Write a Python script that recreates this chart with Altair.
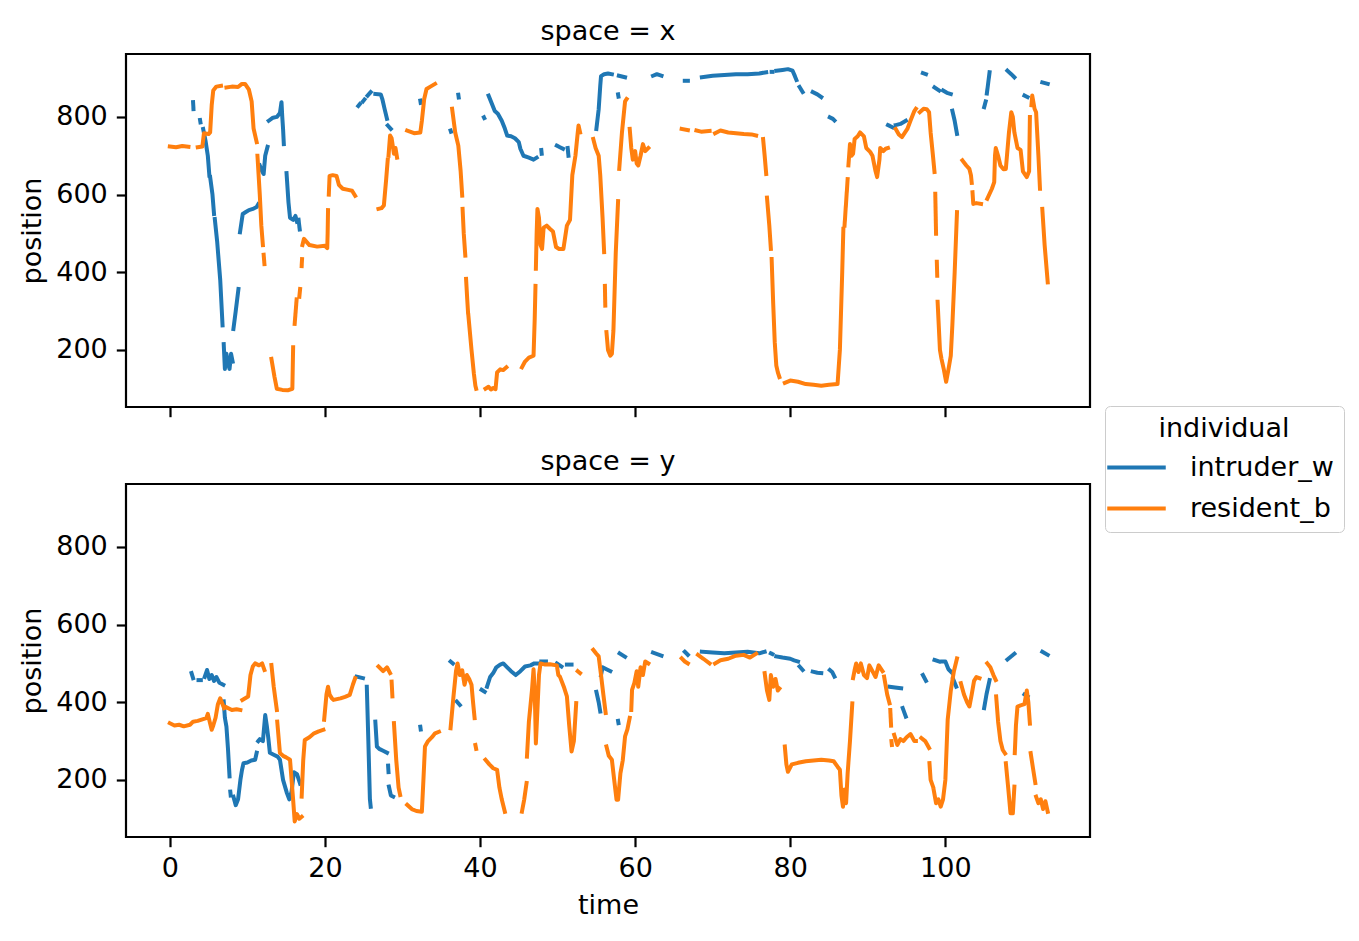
import altair as alt
import pandas as pd

# ---------------- data (time, position) segments; a new segment = gap (NaN) ----------------
X_INTRUDER = [
    [(3.0, 838), (3.05, 820)],
    [(3.9, 792), (3.95, 786)],
    [(4.3, 769), (4.6, 739), (4.9, 700), (5.1, 649)],
    [(5.2, 645), (5.5, 600), (5.7, 550)],
    [(5.8, 537), (6.1, 480), (6.5, 380), (6.8, 263)],
    [(6.95, 215), (7.1, 151), (7.3, 190), (7.5, 165), (7.7, 151), (7.9, 190), (8.1, 170)],
    [(8.2, 254), (8.5, 300), (8.85, 357)],
    [(9.05, 503), (9.4, 550), (9.8, 555), (10.2, 560), (10.7, 563), (11.2, 568), (11.4, 575)],
    [(11.6, 675), (11.9, 660), (12.1, 653), (12.3, 700), (12.6, 723)],
    [(12.75, 790), (13.3, 798), (13.8, 800), (14.2, 810), (14.4, 838), (14.5, 800), (14.6, 770), (14.7, 730)],
    [(15.05, 655), (15.3, 580), (15.5, 540), (15.9, 535), (16.2, 545), (16.4, 530)],
    [(16.6, 535), (16.75, 510)],
    [(24.3, 828), (24.5, 833)],
    [(24.9, 840), (25.1, 845)],
    [(25.5, 855), (25.9, 864)],
    [(26.5, 859), (27.2, 858), (27.4, 846), (27.7, 820), (28.0, 795)],
    [(28.1, 778), (28.5, 769)],
    [(32.3, 842), (32.35, 836)],
    [(36.2, 765), (36.25, 762)],
    [(37.2, 857), (37.25, 850)],
    [(40.5, 799), (40.55, 797)],
    [(41.1, 855), (41.5, 835), (41.9, 815), (42.3, 808), (42.8, 790), (43.2, 770), (43.5, 752),
     (44.0, 750), (44.5, 745), (45.0, 735), (45.2, 718), (45.6, 700), (46.3, 695), (46.9, 690), (47.3, 695)],
    [(47.9, 715), (47.95, 705)],
    [(49.9, 726), (50.3, 722), (50.7, 718)],
    [(51.3, 720), (51.4, 700)],
    [(55.0, 769), (55.3, 820), (55.5, 880), (55.6, 905), (56.0, 910), (56.5, 912), (57.0, 910)],
    [(57.8, 858), (57.85, 852)],
    [(57.9, 906), (58.7, 902)],
    [(62.3, 906), (62.8, 910), (63.4, 906)],
    [(66.4, 893), (66.8, 893)],
    [(68.6, 902), (70.0, 906), (71.5, 908), (73.0, 910), (74.5, 910), (76.0, 912), (76.9, 915)],
    [(77.6, 916), (77.7, 916)],
    [(78.2, 919), (79.0, 921), (79.7, 923), (80.3, 919), (80.6, 905), (80.8, 895)],
    [(81.2, 877), (81.6, 864)],
    [(82.9, 864), (83.5, 858), (84.0, 851)],
    [(85.1, 799), (85.5, 795), (85.7, 791)],
    [(92.6, 779), (93.2, 773)],
    [(93.6, 779), (94.2, 782), (94.9, 790)],
    [(97.1, 913), (97.5, 910)],
    [(98.6, 876), (99.2, 868)],
    [(99.7, 868), (100.2, 862), (100.7, 859)],
    [(100.9, 816), (101.2, 790), (101.5, 756)],
    [(105.0, 825), (105.2, 840)],
    [(105.35, 860), (105.7, 915)],
    [(108.0, 919), (108.5, 910), (108.9, 902)],
    [(110.2, 855), (110.6, 851)],
    [(112.5, 889), (113.2, 885)],
]

X_RESIDENT = [
    [(0.0, 724), (0.8, 722), (1.6, 725), (2.4, 723)],
    [(3.6, 722), (4.2, 724), (4.4, 758), (5.0, 756), (5.2, 760), (5.4, 830), (5.6, 868), (6.0, 878), (6.6, 880)],
    [(7.3, 876), (8.0, 878), (8.8, 877), (9.3, 885), (9.7, 885), (10.2, 870), (10.55, 840), (10.8, 770), (11.2, 735)],
    [(11.3, 700), (11.6, 600), (11.8, 520), (12.0, 470)],
    [(12.1, 445), (12.2, 421)],
    [(13.1, 177), (13.5, 130), (13.8, 100), (14.5, 97), (15.2, 96), (15.8, 100), (15.9, 207)],
    [(16.1, 267), (16.35, 330)],
    [(16.7, 337), (16.8, 357)],
    [(17.0, 416), (17.05, 434)],
    [(17.1, 470), (17.3, 486), (18.0, 470), (19.0, 466), (20.0, 468), (20.3, 462), (20.35, 500), (20.4, 560)],
    [(20.5, 600), (20.6, 648), (21.0, 650), (21.5, 648), (21.8, 625), (22.3, 615), (23.0, 612), (23.5, 610), (23.9, 597)],
    [(26.9, 563), (27.3, 565), (27.6, 572), (27.9, 640), (28.1, 690)],
    [(28.2, 700), (28.4, 752), (28.6, 745), (28.9, 705), (29.1, 720), (29.3, 695)],
    [(30.6, 765), (31.5, 758), (32.3, 760), (32.5, 790), (32.8, 846), (33.1, 872), (33.6, 878), (34.2, 885)],
    [(36.4, 821), (36.8, 760), (37.2, 726), (37.5, 660), (37.7, 597)],
    [(37.75, 563), (37.9, 500), (38.1, 443)],
    [(38.2, 383), (38.35, 330), (38.45, 297)],
    [(38.5, 288), (38.9, 200), (39.2, 140), (39.4, 108), (39.5, 100)],
    [(40.7, 100), (41.1, 105), (41.4, 98), (41.7, 102), (42.0, 99), (42.2, 142), (42.6, 150), (43.0, 148), (43.4, 155)],
    [(45.4, 155), (45.8, 170), (46.3, 180), (46.9, 185), (47.05, 280), (47.15, 365)],
    [(47.2, 409), (47.3, 500), (47.4, 563), (47.6, 540), (47.8, 470), (48.0, 460), (48.2, 515), (48.6, 520),
     (49.0, 512), (49.4, 505), (49.8, 465), (50.2, 460), (50.75, 460), (51.2, 520), (51.6, 535), (51.9, 650),
     (52.3, 700), (52.6, 760), (52.7, 778), (52.9, 760)],
    [(54.6, 743), (54.9, 720), (55.3, 700), (55.5, 650), (55.8, 540), (56.0, 452)],
    [(56.1, 365), (56.15, 314)],
    [(56.3, 246), (56.5, 200), (56.8, 185), (57.0, 190), (57.2, 250), (57.5, 450), (57.8, 583)],
    [(57.95, 666), (58.3, 760), (58.7, 840), (58.9, 846)],
    [(59.3, 769), (59.5, 720), (59.7, 690), (60.0, 712), (60.2, 680), (60.4, 675), (60.7, 700), (61.0, 730), (61.3, 712), (61.7, 720)],
    [(66.0, 769), (66.8, 766)],
    [(67.9, 765), (68.5, 762), (69.6, 764)],
    [(70.3, 758), (71.0, 765), (72.0, 760), (73.0, 758), (74.0, 756), (75.0, 755), (75.6, 752)],
    [(76.5, 743), (76.7, 700), (76.9, 653)],
    [(77.0, 592), (77.3, 520), (77.5, 460)],
    [(77.6, 434), (77.8, 320), (78.0, 220), (78.2, 160), (78.4, 142), (78.6, 130)],
    [(79.3, 115), (80.0, 121), (81.0, 118), (82.0, 112), (83.0, 110), (84.0, 108), (85.0, 110), (86.1, 112),
     (86.4, 200), (86.7, 400), (86.8, 477), (86.85, 512)],
    [(87.0, 520), (87.4, 640)],
    [(87.5, 675), (87.7, 730), (87.9, 700), (88.1, 705), (88.3, 743), (88.7, 750), (89.0, 760), (89.5, 750),
     (89.8, 720), (90.3, 710), (90.6, 700), (91.0, 660), (91.2, 645), (91.5, 690), (91.6, 720), (92.0, 712),
     (92.3, 718), (92.6, 720)],
    [(93.6, 769), (94.0, 755), (94.4, 748), (94.8, 760), (95.1, 769), (95.5, 790), (96.0, 815), (96.2, 821)],
    [(96.7, 812), (97.2, 821), (97.6, 820), (97.9, 812), (98.1, 760), (98.4, 700), (98.6, 658)],
    [(98.7, 602), (98.8, 499)],
    [(98.9, 427), (98.95, 391)],
    [(99.0, 324), (99.3, 200), (99.5, 177), (99.8, 150), (100.1, 118), (100.4, 150), (100.7, 185), (100.9, 263),
     (101.2, 400), (101.5, 555)],
    [(102.2, 688), (102.7, 675), (103.1, 666), (103.3, 650), (103.4, 630)],
    [(103.5, 606), (103.6, 576), (104.0, 578), (104.6, 576)],
    [(105.4, 589), (106.0, 615), (106.3, 632), (106.4, 700), (106.5, 720), (106.8, 700), (107.1, 675), (107.5, 665),
     (107.8, 666), (108.2, 760), (108.5, 812), (108.7, 800), (108.9, 760), (109.3, 720), (109.7, 715), (110.0, 660),
     (110.5, 645), (110.8, 660), (110.9, 800)],
    [(111.1, 830), (111.2, 855), (111.5, 821), (111.7, 812), (112.0, 700), (112.2, 615)],
    [(112.5, 563), (112.8, 470), (113.2, 374)],
]

Y_INTRUDER = [
    [(2.8, 475), (3.0, 462)],
    [(3.7, 457), (4.0, 457)],
    [(4.5, 465), (4.8, 483), (5.1, 460), (5.4, 470), (5.7, 455), (6.0, 465), (6.4, 450), (6.9, 445)],
    [(6.95, 402), (7.1, 360), (7.3, 337), (7.5, 280), (7.7, 209)],
    [(7.8, 170), (7.85, 160)],
    [(8.2, 157), (8.5, 135), (8.8, 150), (9.1, 200), (9.3, 225), (9.5, 243), (10.0, 245), (10.5, 250), (11.0, 252), (11.2, 270)],
    [(11.4, 300), (11.6, 305), (12.0, 300), (12.3, 367), (12.5, 340), (12.7, 308), (12.9, 270), (13.4, 265),
     (13.9, 260), (14.2, 252), (14.6, 200), (15.1, 166), (15.4, 150), (15.7, 170), (16.0, 220), (16.4, 215), (16.8, 190)],
    [(24.1, 466), (24.9, 462)],
    [(25.4, 440), (25.6, 300), (25.8, 150), (25.9, 131)],
    [(26.5, 350), (26.7, 286), (27.0, 280), (27.5, 275), (28.0, 270)],
    [(28.15, 237), (28.2, 220)],
    [(28.25, 183), (28.5, 160), (28.8, 157)],
    [(32.3, 337), (32.35, 330)],
    [(36.2, 505), (36.5, 500)],
    [(37.0, 402), (37.4, 393)],
    [(40.2, 432), (40.6, 427)],
    [(40.9, 440), (41.3, 465), (41.7, 475), (42.1, 490), (42.6, 497), (43.0, 500), (43.5, 490), (44.0, 480),
     (44.6, 470), (45.2, 480), (45.8, 492), (46.5, 495), (47.0, 500), (47.7, 500)],
    [(47.9, 505), (48.5, 505)],
    [(49.9, 500), (50.5, 492)],
    [(51.2, 497), (51.8, 497)],
    [(55.0, 427), (55.3, 400), (55.5, 376)],
    [(55.6, 470), (55.8, 490), (56.3, 485), (56.8, 480)],
    [(57.8, 352), (57.85, 346)],
    [(58.0, 526), (58.7, 517)],
    [(62.3, 528), (63.4, 520)],
    [(66.4, 530), (66.8, 522)],
    [(68.6, 530), (70.0, 528), (71.5, 526), (73.0, 528), (74.5, 530), (76.0, 526), (76.7, 530)],
    [(77.5, 526), (77.7, 524)],
    [(78.2, 518), (79.0, 515), (80.0, 512), (80.5, 508), (81.0, 505)],
    [(81.2, 492), (81.6, 483)],
    [(82.9, 479), (83.5, 476), (84.0, 475)],
    [(85.1, 483), (85.4, 478), (85.7, 466)],
    [(92.8, 440), (93.5, 438), (94.3, 436)],
    [(94.5, 385), (94.9, 363)],
    [(97.1, 470), (97.5, 455)],
    [(98.6, 509), (99.2, 505)],
    [(99.6, 505), (100.0, 505), (100.4, 485), (100.9, 475)],
    [(101.0, 460), (101.4, 440)],
    [(105.0, 385), (105.3, 420), (105.7, 457)],
    [(108.0, 510), (108.9, 525)],
    [(110.2, 420), (110.6, 415)],
    [(112.5, 530), (113.2, 522)],
]

Y_RESIDENT = [
    [(0.0, 346), (0.6, 340), (1.2, 342), (1.8, 338), (2.6, 342), (3.0, 350), (3.6, 352), (4.2, 356), (4.7, 359),
     (4.9, 370), (5.2, 345), (5.4, 329), (5.6, 340), (5.9, 360), (6.2, 395), (6.5, 410), (6.8, 395), (7.0, 385)],
    [(7.3, 387), (8.0, 380), (8.6, 382), (9.1, 380)],
    [(9.35, 406), (10.1, 415), (10.4, 470), (10.7, 492), (11.0, 500), (11.5, 495), (11.9, 500), (12.2, 483)],
    [(13.1, 496), (13.4, 440), (13.8, 380)],
    [(13.85, 350), (14.2, 269), (14.6, 262), (15.0, 258), (15.5, 252), (15.7, 200), (15.9, 149), (16.1, 93),
     (16.4, 112), (16.7, 100), (17.0, 105)],
    [(17.0, 157), (17.2, 250), (17.4, 303), (18.0, 310), (18.6, 320), (19.2, 325), (19.8, 329)],
    [(19.9, 355), (20.2, 420), (20.4, 440), (20.6, 420), (20.9, 410), (21.1, 406), (22.0, 410), (22.6, 414),
     (23.2, 419), (23.6, 445), (23.9, 462)],
    [(26.9, 492), (27.5, 480), (28.0, 490), (28.4, 475)],
    [(28.6, 453), (28.7, 415)],
    [(28.9, 346), (29.2, 250), (29.5, 180), (29.7, 161)],
    [(30.6, 136), (31.2, 125), (31.8, 120), (32.5, 118), (32.7, 200), (32.9, 286), (33.3, 300), (33.8, 310),
     (34.2, 320), (34.7, 324)],
    [(36.2, 333), (36.6, 420), (36.9, 480), (37.1, 500), (37.4, 470), (37.7, 482), (38.0, 445), (38.3, 470),
     (38.6, 460), (38.9, 445), (39.1, 400), (39.3, 359)],
    [(39.4, 290), (39.5, 280)],
    [(40.7, 252), (41.2, 240), (41.7, 230), (42.2, 226), (42.5, 180), (42.8, 150), (43.2, 118)],
    [(45.4, 118), (45.7, 150), (46.0, 192)],
    [(46.05, 260), (46.3, 350), (46.7, 432), (46.9, 485), (47.05, 430), (47.2, 294), (47.4, 380), (47.6, 470),
     (47.8, 500), (48.4, 497), (49.0, 498), (49.9, 495), (50.1, 470), (50.3, 466), (50.8, 440), (51.2, 415),
     (51.5, 340), (51.8, 273), (52.1, 300), (52.4, 398)],
    [(52.6, 480), (52.9, 475)],
    [(54.6, 535), (55.0, 525), (55.3, 518), (55.6, 470), (55.9, 420), (56.2, 372)],
    [(56.3, 286), (56.6, 262), (57.0, 252), (57.3, 200), (57.6, 149), (57.8, 149), (58.1, 217), (58.4, 250),
     (58.7, 312), (59.0, 330), (59.3, 360)],
    [(59.5, 380), (59.6, 432), (59.9, 450), (60.2, 480), (60.4, 440), (60.7, 490), (61.0, 470), (61.3, 505), (61.7, 500)],
    [(66.0, 513), (66.4, 505), (66.8, 500)],
    [(68.1, 522), (68.8, 512), (69.6, 500)],
    [(70.3, 500), (71.0, 508), (72.0, 512), (73.0, 520), (74.0, 522), (74.8, 515), (75.6, 525)],
    [(76.7, 475), (77.0, 430), (77.3, 406), (77.5, 470), (77.8, 440), (78.1, 460), (78.4, 430), (78.6, 435)],
    [(79.3, 286), (79.5, 240), (79.7, 221), (80.2, 240), (81.0, 244), (82.0, 248), (83.0, 250), (84.0, 252),
     (85.0, 250), (85.6, 248), (86.1, 234), (86.4, 226), (86.6, 160), (86.8, 131), (87.0, 175), (87.2, 140),
     (87.4, 217), (87.7, 300), (88.0, 397)],
    [(88.1, 462), (88.3, 483), (88.5, 500), (88.8, 478), (89.1, 500), (89.5, 470), (89.9, 462), (90.2, 495),
     (90.6, 480), (91.0, 465), (91.4, 495), (91.9, 480)],
    [(92.1, 466), (92.5, 420), (92.8, 397)],
    [(92.9, 380), (93.0, 340)],
    [(93.05, 300), (93.1, 290)],
    [(93.4, 316), (93.8, 290), (94.2, 305), (94.6, 300), (95.0, 310), (95.5, 318), (96.0, 300), (96.2, 300)],
    [(96.9, 308), (97.4, 300), (97.9, 282)],
    [(97.95, 243), (98.1, 200), (98.4, 183)],
    [(98.5, 174), (98.8, 140), (99.1, 150), (99.4, 131), (99.7, 150), (100.0, 200), (100.3, 355), (100.7, 430),
     (101.1, 480), (101.5, 513)],
    [(102.0, 449), (102.4, 420), (102.8, 400), (103.1, 389), (103.4, 420), (103.7, 455), (104.0, 465), (104.4, 462)],
    [(105.4, 500), (105.8, 490), (106.2, 470), (106.5, 457)],
    [(106.55, 415), (106.8, 350), (107.1, 300), (107.4, 277), (107.7, 268)],
    [(107.8, 243), (108.1, 180), (108.4, 114), (108.7, 114), (108.9, 183)],
    [(108.95, 269), (109.1, 340), (109.3, 389), (109.7, 392), (110.2, 395), (110.5, 430), (110.7, 400), (110.9, 345)],
    [(111.0, 269), (111.3, 230), (111.6, 192)],
    [(111.7, 157), (112.0, 140), (112.3, 150), (112.6, 125), (112.9, 145), (113.2, 118)],
]

INDIVIDUALS = ["intruder_w", "resident_b"]
COLORS = ["#1f77b4", "#ff7f0e"]
X_DOMAIN = [-5.65, 118.65]
Y_DOMAIN = [53, 962]

SERIES = {
    ("x", "intruder_w"): X_INTRUDER,
    ("x", "resident_b"): X_RESIDENT,
    ("y", "intruder_w"): Y_INTRUDER,
    ("y", "resident_b"): Y_RESIDENT,
}

rows = []
for (space, ind), segs in SERIES.items():
    for i, seg in enumerate(segs):
        for t, v in seg:
            rows.append({"time": t, "position": v, "individual": ind, "space": space,
                         "seg": f"{space}-{ind}-{i}"})
df = pd.DataFrame(rows)

FONT = "DejaVu Sans"
FS = 27


def panel(space, bottom):
    x_axis = alt.Axis(
        values=[0, 20, 40, 60, 80, 100], labels=bottom, title="time" if bottom else None,
        tickSize=9.7, tickWidth=2.2, tickColor="black", labelPadding=9, labelFontSize=FS,
        labelFont=FONT, labelColor="black", titleFontSize=FS, titleFont=FONT,
        titleFontWeight="normal", titleColor="black", titlePadding=11, domain=False, grid=False,
    )
    y_axis = alt.Axis(
        values=[200, 400, 600, 800], title="position", tickSize=9.7, tickWidth=2.2,
        tickColor="black", labelPadding=9, labelFontSize=FS, labelFont=FONT, labelColor="black",
        titleFontSize=FS, titleFont=FONT, titleFontWeight="normal", titleColor="black",
        titlePadding=9, domain=False, grid=False,
    )
    return (
        alt.Chart(df)
        .transform_filter(alt.datum.space == space)
        .mark_line(strokeWidth=4, strokeCap="square", strokeJoin="round", clip=True)
        .encode(
            x=alt.X("time:Q", scale=alt.Scale(domain=X_DOMAIN, nice=False, zero=False), axis=x_axis),
            y=alt.Y("position:Q", scale=alt.Scale(domain=Y_DOMAIN, nice=False, zero=False), axis=y_axis),
            color=alt.Color(
                "individual:N",
                scale=alt.Scale(domain=INDIVIDUALS, range=COLORS),
                legend=alt.Legend(
                    title="individual", orient="none", legendX=979, legendY=352,
                    titleFontSize=FS, titleFont=FONT, titleFontWeight="normal", titleColor="black",
                    titleAnchor="middle", titlePadding=3,
                    labelFontSize=FS, labelFont=FONT, labelColor="black", labelOffset=32,
                    symbolType="M-1.5,0H1.5", symbolSize=1521, symbolStrokeWidth=4,
                    rowPadding=6, padding=10, strokeColor="#cccccc", fillColor="white",
                    cornerRadius=5,
                ),
            ),
            detail="seg:N",
            order="time:Q",
        )
        .properties(
            width=964, height=353,
            title=alt.TitleParams(f"space = {space}", fontSize=FS, font=FONT, fontWeight="normal",
                                  color="black", offset=8),
        )
    )


chart = (
    alt.vconcat(panel("x", False), panel("y", True), spacing=27)
    .properties(padding={"left": 9, "top": 8, "right": 5, "bottom": 5}, background="white")
    .configure_view(stroke="black", strokeWidth=2.2)
)

chart.save("out.html", embed_options={"renderer": "svg", "actions": False})
